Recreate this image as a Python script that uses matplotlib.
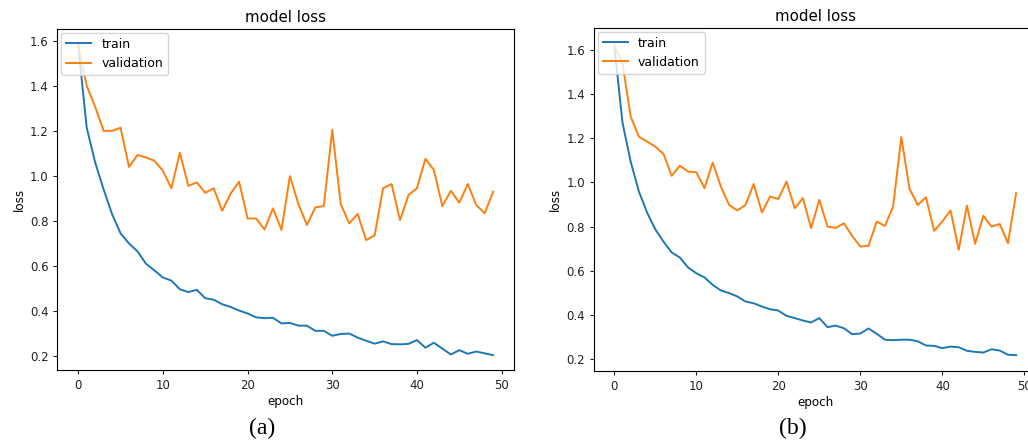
import matplotlib
matplotlib.use("Agg")
import matplotlib.pyplot as plt
import numpy as np

epochs = list(range(50))

train_a = [1.58, 1.215, 1.06, 0.94, 0.83, 0.745, 0.70, 0.665, 0.61, 0.58,
           0.549, 0.535, 0.497, 0.484, 0.494, 0.457, 0.45, 0.43, 0.418, 0.402,
           0.389, 0.372, 0.368, 0.37, 0.345, 0.347, 0.335, 0.335, 0.312, 0.312,
           0.290, 0.298, 0.30, 0.282, 0.268, 0.255, 0.265, 0.253, 0.252, 0.254,
           0.271, 0.237, 0.259, 0.233, 0.207, 0.226, 0.21, 0.22, 0.212, 0.204]
val_a = [1.58, 1.40, 1.307, 1.20, 1.20, 1.214, 1.04, 1.093, 1.082, 1.067,
         1.023, 0.945, 1.103, 0.956, 0.971, 0.925, 0.945, 0.845, 0.922, 0.974,
         0.811, 0.811, 0.762, 0.856, 0.760, 0.999, 0.875, 0.782, 0.860, 0.866,
         1.204, 0.875, 0.789, 0.831, 0.715, 0.736, 0.945, 0.964, 0.804, 0.915,
         0.945, 1.076, 1.026, 0.866, 0.934, 0.881, 0.964, 0.871, 0.834, 0.930]

train_b = [1.62, 1.271, 1.094, 0.959, 0.864, 0.788, 0.732, 0.683, 0.66, 0.615,
           0.589, 0.570, 0.536, 0.511, 0.499, 0.484, 0.461, 0.453, 0.438, 0.426,
           0.420, 0.396, 0.386, 0.375, 0.366, 0.386, 0.345, 0.352, 0.340, 0.313,
           0.316, 0.339, 0.315, 0.288, 0.286, 0.288, 0.288, 0.281, 0.262, 0.260,
           0.250, 0.257, 0.254, 0.238, 0.233, 0.230, 0.245, 0.239, 0.220, 0.218]
val_b = [1.62, 1.54, 1.298, 1.207, 1.185, 1.162, 1.129, 1.03, 1.076, 1.049,
         1.046, 0.974, 1.09, 0.981, 0.898, 0.873, 0.898, 0.993, 0.864, 0.936,
         0.925, 1.004, 0.883, 0.929, 0.793, 0.921, 0.800, 0.794, 0.815, 0.758,
         0.710, 0.713, 0.823, 0.803, 0.891, 1.205, 0.971, 0.898, 0.933, 0.781,
         0.823, 0.873, 0.695, 0.895, 0.722, 0.849, 0.800, 0.812, 0.725, 0.951]

xticks = [0, 10, 20, 30, 40, 50]
yticks = [0.2, 0.4, 0.6, 0.8, 1.0, 1.2, 1.4, 1.6]

fig = plt.figure(figsize=(10.28, 4.41), dpi=100)
axA = fig.add_axes([0.0559, 0.161, 0.444, 0.773])
axB = fig.add_axes([0.578, 0.159, 0.430, 0.778])

panels = [(axA, train_a, val_a, (0.138, 1.652), "(a)", 262 / 1028),
          (axB, train_b, val_b, (0.147, 1.70), "(b)", 793 / 1028)]

for ax, tr, va, ylim, cap, cx in panels:
    ax.plot(epochs, tr, color="#1f77b4", lw=1.4, label="train")
    ax.plot(epochs, va, color="#ff7f0e", lw=1.4, label="validation")
    ax.set_xlim(-2.45, 51.45)
    ax.set_ylim(*ylim)
    ax.set_xticks(xticks)
    ax.set_yticks(yticks)
    ax.set_yticklabels([f"{t:.1f}" for t in yticks])
    ax.tick_params(labelsize=8.5, length=3, width=0.8, colors="#222222")
    ax.set_title("model loss", fontsize=10.8, pad=5)
    ax.set_xlabel("epoch", fontsize=8.6, labelpad=2)
    ax.set_ylabel("loss", fontsize=8.6, labelpad=3)
    ax.legend(loc="upper left", fontsize=9, borderaxespad=0.3, handlelength=2.0)
    for s in ax.spines.values():
        s.set_linewidth(0.8)
    fig.text(cx, 13 / 441, cap, ha="center", va="center",
             fontsize=17, family="Liberation Serif")

fig.savefig("out.png", dpi=100)
